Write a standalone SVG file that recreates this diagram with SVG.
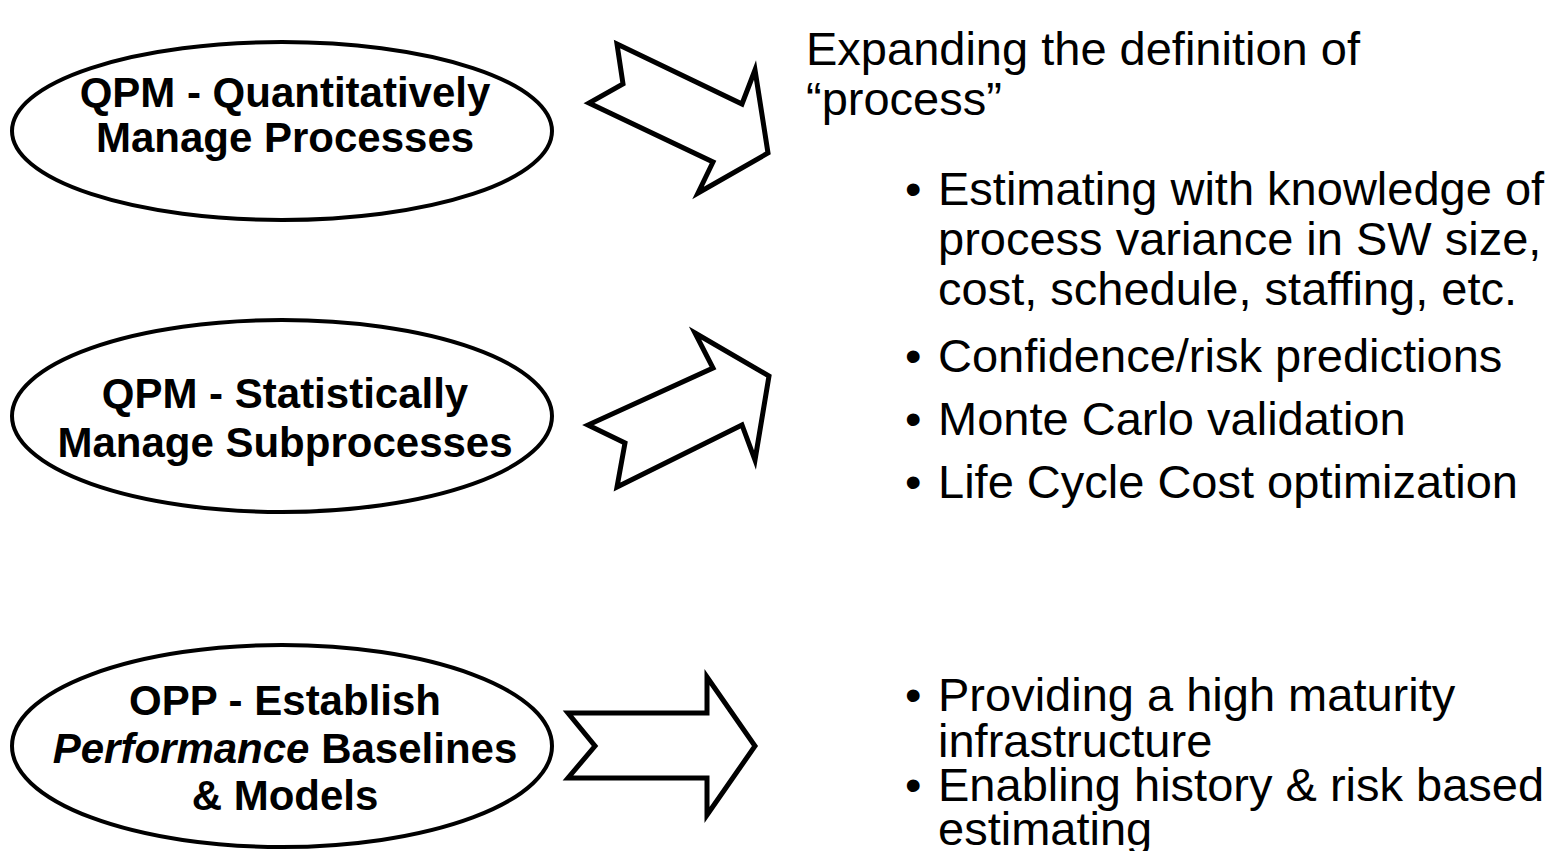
<svg xmlns="http://www.w3.org/2000/svg" width="1568" height="851" viewBox="0 0 1568 851">
<style>
.node ellipse{fill:#fff;stroke:#000;stroke-width:4}
.lbl{font-family:"Liberation Sans",Arial,sans-serif;font-weight:bold;font-size:42px;text-anchor:middle;fill:#000}
.arr{fill:#fff;stroke:#000;stroke-width:5;stroke-linejoin:miter}
.txt{font-family:"Liberation Sans",Arial,sans-serif;font-size:47px;fill:#000}
</style>
<rect width="1568" height="851" fill="#fff"/>
<g id="node-qpm1" class="node">
<ellipse cx="282" cy="131" rx="270" ry="89"/>
<text class="lbl" x="285" y="107">QPM - Quantitatively</text>
<text class="lbl" x="285" y="152">Manage Processes</text>
</g>
<g id="node-qpm2" class="node">
<ellipse cx="282" cy="416" rx="270" ry="96"/>
<text class="lbl" x="285" y="408">QPM - Statistically</text>
<text class="lbl" x="285" y="457">Manage Subprocesses</text>
</g>
<g id="node-opp" class="node">
<ellipse cx="282" cy="746" rx="270" ry="101"/>
<text class="lbl" x="285" y="715">OPP - Establish</text>
<text class="lbl" x="285" y="763"><tspan font-style="italic">Performance</tspan> Baselines</text>
<text class="lbl" x="285" y="810">&amp; Models</text>
</g>
<g id="connectors">
<polygon class="arr" points="617,44 742,104 755,70 768,153 698,193 713,162 589,103 623,84"/>
<polygon class="arr" points="695,333 769,376 755,460 742,425 617,487 625,443 588,425 713,368"/>
<polygon class="arr" points="568,713 707,713 707,677 755,746 707,815 707,778 568,778 595,746"/>
</g>
<g id="text-top">
<text class="txt" x="806" y="65">Expanding the definition of</text>
<text class="txt" x="806" y="115">“process”</text>
<text class="txt" x="905" y="205">•</text><text class="txt" x="938" y="205">Estimating with knowledge of</text>
<text class="txt" x="938" y="255">process variance in SW size,</text>
<text class="txt" x="938" y="305">cost, schedule, staffing, etc.</text>
<text class="txt" x="905" y="372">•</text><text class="txt" x="938" y="372">Confidence/risk predictions</text>
<text class="txt" x="905" y="435">•</text><text class="txt" x="938" y="435">Monte Carlo validation</text>
<text class="txt" x="905" y="498">•</text><text class="txt" x="938" y="498">Life Cycle Cost optimization</text>
</g>
<g id="text-bottom">
<text class="txt" x="905" y="711">•</text><text class="txt" x="938" y="711">Providing a high maturity</text>
<text class="txt" x="938" y="757">infrastructure</text>
<text class="txt" x="905" y="801">•</text><text class="txt" x="938" y="801">Enabling history &amp; risk based</text>
<text class="txt" x="938" y="845">estimating</text>
</g>
</svg>
